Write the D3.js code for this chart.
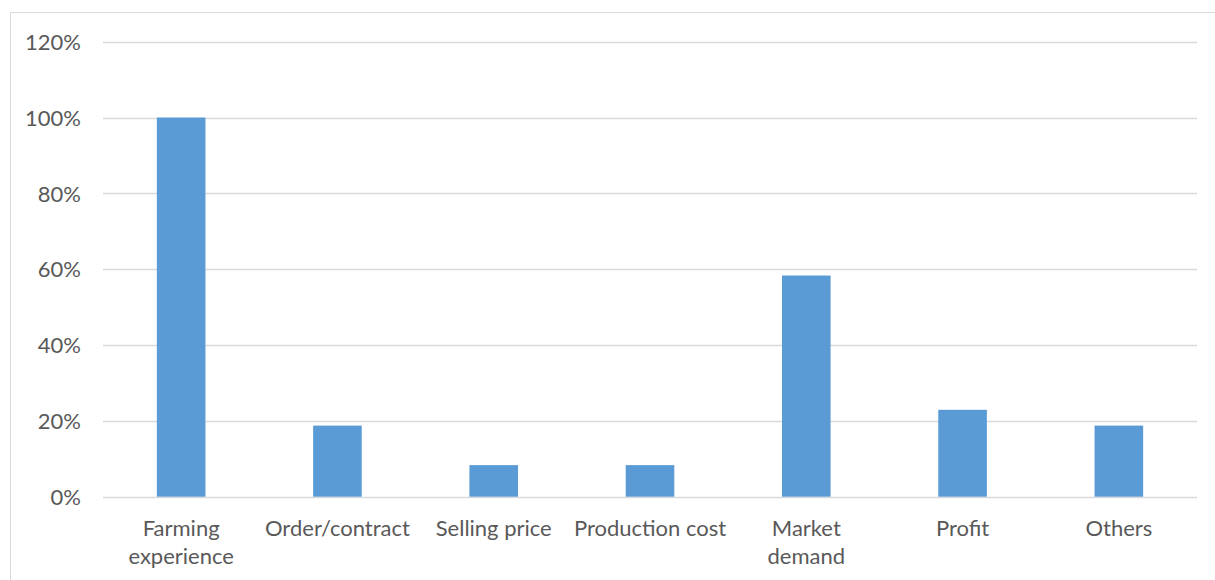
<!DOCTYPE html>
<html>
<head>
<meta charset="utf-8">
<script src="https://cdn.jsdelivr.net/npm/d3@7"></script>
<style>
  html, body { margin: 0; padding: 0; background: #fff; }
  svg { display: block; }
  .axis text { font-family: Lato, "Open Sans", sans-serif; fill: #595959; }
</style>
</head>
<body>
<svg id="chart" width="1215" height="580"></svg>
<script>
// Factors considered when deciding what to farm (share of respondents)
const categories = [
  ["Farming", "experience"],
  ["Order/contract"],
  ["Selling price"],
  ["Production cost"],
  ["Market", "demand"],
  ["Profit"],
  ["Others"]
];
const values = [100, 18.75, 8.33, 8.33, 58.33, 22.92, 18.75];
const yTicks = [0, 20, 40, 60, 80, 100, 120];

const svg = d3.select("#chart");
const W = 1215, H = 580;
const margin = { left: 103, right: 18, top: 41.7, bottom: 83.3 };
const x0 = margin.left, x1 = W - margin.right;
const y0 = H - margin.bottom, y1 = margin.top;

// chart frame
svg.append("path")
  .attr("d", `M10.5,${H} V12.5 H${W}`)
  .attr("fill", "none")
  .attr("stroke", "#d9d9d9")
  .attr("stroke-width", 1);

const keys = categories.map(c => c.join(" "));
const x = d3.scaleBand().domain(keys).range([x0, x1]).paddingInner(0.689).paddingOuter(0.3445);
const y = d3.scaleLinear().domain([0, 120]).range([y0, y1]);

// gridlines
svg.append("g")
  .selectAll("line")
  .data(yTicks)
  .join("line")
  .attr("x1", x0).attr("x2", x1)
  .attr("y1", d => Math.round(y(d)) + 0.5)
  .attr("y2", d => Math.round(y(d)) + 0.5)
  .attr("stroke", "#d9d9d9")
  .attr("stroke-width", 1.5);

// bars
svg.append("g")
  .selectAll("rect")
  .data(values)
  .join("rect")
  .attr("x", (d, i) => x(keys[i]))
  .attr("width", x.bandwidth())
  .attr("y", d => y(d))
  .attr("height", d => y(0) - y(d))
  .attr("fill", "#5b9bd5");

// y axis labels
const yAxis = svg.append("g")
  .attr("class", "axis")
  .attr("transform", `translate(${x0 - 22},0)`)
  .call(d3.axisLeft(y).tickValues(yTicks).tickFormat(d => d + "%").tickSize(0).tickPadding(0));
yAxis.select(".domain").remove();
yAxis.selectAll("text").attr("font-size", 22).attr("dy", "0.35em");

// x axis labels (wrapped into lines)
const xAxis = svg.append("g")
  .attr("class", "axis")
  .attr("transform", `translate(0,${y0})`)
  .call(d3.axisBottom(x).tickSize(0).tickFormat(() => ""));
xAxis.select(".domain").remove();
xAxis.selectAll(".tick text").each(function(d, i) {
  const t = d3.select(this).attr("font-size", 22).attr("y", 0).attr("dy", null);
  categories[i].forEach((line, j) => {
    t.append("tspan").attr("x", 0).attr("y", 39 + j * 28).text(line);
  });
});
</script>
</body>
</html>
